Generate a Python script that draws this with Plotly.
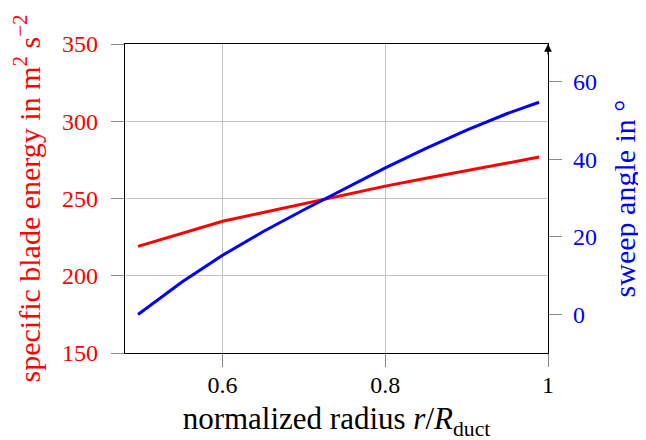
import plotly.graph_objects as go

# data
radius = [0.496, 0.55, 0.6, 0.65, 0.7, 0.75, 0.8, 0.85, 0.9, 0.95, 0.989]
blade_energy = [219.0, 227.6, 235.3, 241.0, 246.6, 252.3, 258.0, 263.1, 268.0, 272.9, 276.8]
sweep_angle = [0.0, 8.4, 15.3, 21.4, 27.0, 32.5, 37.8, 42.8, 47.5, 51.8, 54.7]

x_ticks = [0.6, 0.8, 1.0]
x_ticktext = ["0.6", "0.8", "1"]
left_ticks = [150, 200, 250, 300, 350]
right_ticks = [0, 20, 40, 60]

RED = "#ff0000"
BLUE = "#0000ff"
FONT = "Liberation Serif, DejaVu Serif, serif"

fig = go.Figure()
fig.add_trace(go.Scatter(x=radius, y=blade_energy, mode="lines",
                         line=dict(color=RED, width=3), yaxis="y", showlegend=False))
fig.add_trace(go.Scatter(x=radius, y=sweep_angle, mode="lines",
                         line=dict(color=BLUE, width=3), yaxis="y2", showlegend=False))

fig.update_layout(
    width=646, height=440,
    margin=dict(l=117, r=106, t=36, b=95),
    paper_bgcolor="white", plot_bgcolor="white",
    font=dict(family=FONT, size=24, color="black"),
    xaxis=dict(
        range=[0.48, 1.0], tickvals=x_ticks, ticktext=x_ticktext,
        showgrid=True, gridcolor="#c4c4c4", gridwidth=1,
        showline=True, linecolor="black", linewidth=1.3, mirror=True,
        ticks="outside", ticklen=13, tickcolor="#8a8a8a", tickwidth=1,
        zeroline=False, ticklabelstandoff=-3,
        tickfont=dict(family=FONT, size=24, color="black"),
        title=dict(text="normalized radius <i>r</i>/<i>R</i><sub>duct</sub>",
                   font=dict(family=FONT, size=31, color="black"), standoff=10),
    ),
    yaxis=dict(
        range=[150, 350], tickvals=left_ticks,
        showgrid=True, gridcolor="#c4c4c4", gridwidth=1,
        showline=True, linecolor="black", linewidth=1.3,
        ticks="outside", ticklen=13, tickcolor="#8a8a8a", tickwidth=1,
        zeroline=False, ticklabelstandoff=8,
        tickfont=dict(family=FONT, size=24, color=RED),
        title=dict(text="specific blade energy in m<sup>2</sup> s<sup>−2</sup>",
                   font=dict(family=FONT, color=RED, size=30), standoff=17),
    ),
    yaxis2=dict(
        range=[-9.9, 69.7], tickvals=right_ticks, overlaying="y", side="right",
        showgrid=False, showline=True, linecolor="black", linewidth=1.3,
        ticks="outside", ticklen=13, tickcolor="#8a8a8a", tickwidth=1,
        zeroline=False, ticklabelstandoff=6,
        tickfont=dict(family=FONT, size=24, color=BLUE),
        title=dict(text="sweep angle in °",
                   font=dict(family=FONT, color=BLUE, size=30), standoff=18),
    ),
    annotations=[dict(x=1, y=1, xref="paper", yref="paper", text="",
                      showarrow=True, arrowhead=2, arrowsize=1.2, arrowwidth=1.3,
                      arrowcolor="black", ax=0, ay=12, axref="pixel", ayref="pixel")],
)

fig.write_html("out.html")
